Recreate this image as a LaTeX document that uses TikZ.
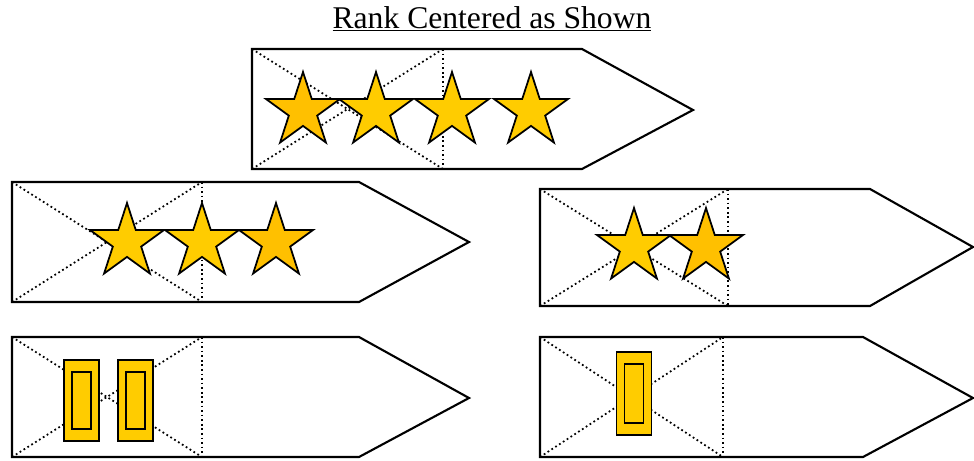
\documentclass[tikz,border=0pt]{standalone}
\usepackage{fontspec}
\setmainfont{Liberation Serif}
\usepackage{xcolor}
\definecolor{rkgold}{RGB}{255,204,0}
\definecolor{rkamber}{RGB}{255,192,0}
\usetikzlibrary{shapes.geometric}
\tikzset{
  taboutline/.style={draw=black,fill=white,line width=1.2pt,line join=miter},
  guide/.style={line width=1pt,dash pattern=on 1pt off 1.6pt},
  rankstar/.style={draw=black,fill=rkgold,line width=1pt,star,star points=5,star point ratio=2.618,minimum size=1.56cm,inner sep=0pt},
  rankbar/.style={draw=black,fill=rkgold,line width=1pt,minimum width=0.7cm,minimum height=1.62cm,inner sep=0pt},
  barslot/.style={draw=black,line width=1pt,minimum width=0.38cm,minimum height=1.14cm,inner sep=0pt}
}

\begin{document}
\begin{tikzpicture}[x=0.02cm,y=-0.02cm]
  \useasboundingbox (0,0) rectangle (974,460);
  \node[font=\fontsize{18}{20}\selectfont,anchor=base] (title) at (492,28) {\underline{Rank Centered as Shown}};
  % four stars
  \draw[taboutline] (252,49) -- (582,49) -- (693,110) -- (582,169) -- (252,169) -- cycle;
  \draw[guide] (252,49) -- (443,169);
  \draw[guide] (252,169) -- (443,49);
  \draw[guide] (443,49) -- (443,169);
  \node[rankstar,fill=rkamber] (a1) at (303,111) {};
  \node[rankstar] (a2) at (376,111) {};
  \node[rankstar] (a3) at (452,111) {};
  \node[rankstar] (a4) at (531,111) {};
  % three stars
  \draw[taboutline] (12,182) -- (359,182) -- (469,242) -- (359,302) -- (12,302) -- cycle;
  \draw[guide] (12,182) -- (202,302);
  \draw[guide] (12,302) -- (202,182);
  \draw[guide] (202,182) -- (202,302);
  \node[rankstar] (b1) at (127,242) {};
  \node[rankstar] (b2) at (202,242) {};
  \node[rankstar,fill=rkamber] (b3) at (276,242) {};
  % two stars
  \draw[taboutline] (540,189) -- (870,189) -- (973,247) -- (870,306) -- (540,306) -- cycle;
  \draw[guide] (540,189) -- (728,306);
  \draw[guide] (540,306) -- (728,189);
  \draw[guide] (728,189) -- (728,306);
  \node[rankstar] (c1) at (634,247) {};
  \node[rankstar,fill=rkamber] (c2) at (706,247) {};
  % two bars
  \draw[taboutline] (12,337) -- (359,337) -- (469,398) -- (359,457) -- (12,457) -- cycle;
  \draw[guide] (12,337) -- (202,457);
  \draw[guide] (12,457) -- (202,337);
  \draw[guide] (202,337) -- (202,457);
  \node[rankbar] (d1) at (81.5,400.5) {};
  \node[barslot] (d1s) at (81.5,400.5) {};
  \node[rankbar] (d2) at (135.5,400.5) {};
  \node[barslot] (d2s) at (135.5,400.5) {};
  % one bar
  \draw[taboutline] (540,337) -- (863,337) -- (973,398) -- (863,457) -- (540,457) -- cycle;
  \draw[guide] (540,337) -- (723,457);
  \draw[guide] (540,457) -- (723,337);
  \draw[guide] (723,337) -- (723,457);
  \node[rankbar,minimum height=1.66cm] (e1) at (634,393.5) {};
  \node[barslot,minimum height=1.18cm] (e1s) at (634,393.5) {};
\end{tikzpicture}
\end{document}
